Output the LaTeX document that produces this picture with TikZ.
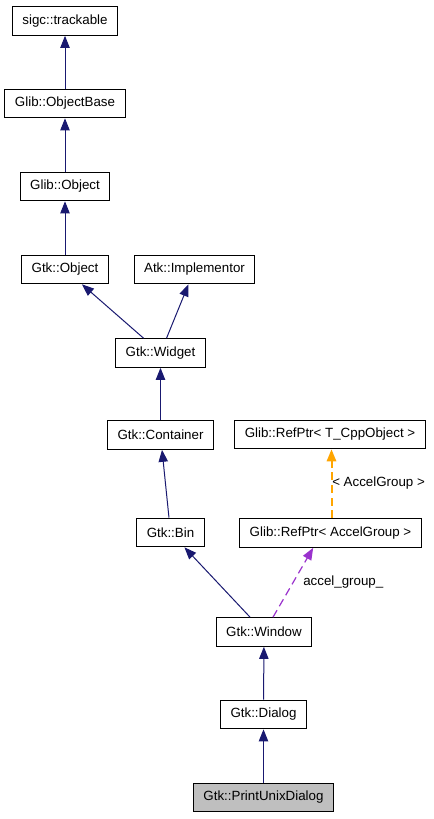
\documentclass[tikz,border=0pt]{standalone}
\usepackage{fontspec}
\setmainfont{Liberation Sans}
\usepackage{tikz}
\usetikzlibrary{arrows.meta}
\definecolor{navyedge}{RGB}{25,25,112}
\definecolor{orchidedge}{RGB}{154,50,205}
\definecolor{orangeedge}{RGB}{255,165,0}
\definecolor{grayfill}{RGB}{191,191,191}
\begin{document}
\begin{tikzpicture}[x=0.75pt,y=-0.75pt,
  cls/.style={draw,line width=0.75pt,fill=white,inner xsep=7.5pt,minimum height=21.5pt,font=\fontsize{10}{12}\selectfont},
  inherit/.style={draw=navyedge,line width=0.75pt,-{Triangle[length=9pt,width=7pt]},navyedge},
  usedby/.style={draw=orchidedge,line width=0.9pt,dash pattern=on 6pt off 3.5pt,-{Triangle[length=9pt,width=7pt]},orchidedge},
  tmpl/.style={draw=orangeedge,line width=1.5pt,dash pattern=on 6pt off 3.5pt,-{Triangle[length=9pt,width=7pt]},orangeedge},
  lbl/.style={font=\fontsize{10}{12}\selectfont,inner sep=0pt,anchor=west}]
\useasboundingbox[fill=white] (0,0) rectangle (433,819);
\node[cls] (trackable) at (65,21) {sigc::trackable};
\node[cls] (objectbase) at (65,103.5) {Glib::ObjectBase};
\node[cls] (glibobject) at (65,186.5) {Glib::Object};
\node[cls] (gtkobject) at (65,269.5) {Gtk::Object};
\node[cls] (implementor) at (194.5,269.5) {Atk::Implementor};
\node[cls] (widget) at (160.5,353) {Gtk::Widget};
\node[cls] (container) at (160.5,435) {Gtk::Container};
\node[cls] (cppobject) at (330,434.5) {Glib::RefPtr< T\_CppObject >};
\node[cls] (bin) at (170.5,532.5) {Gtk::Bin};
\node[cls] (accelgroup) at (330.5,533) {Glib::RefPtr< AccelGroup >};
\node[cls] (window) at (264,632) {Gtk::Window};
\node[cls] (dialog) at (263.5,714.5) {Gtk::Dialog};
\node[cls,fill=grayfill] (printdialog) at (263.5,797.5) {Gtk::PrintUnixDialog};
\draw[inherit] (objectbase) -- (trackable);
\draw[inherit] (glibobject) -- (objectbase);
\draw[inherit] (gtkobject) -- (glibobject);
\draw[inherit] (widget) -- (gtkobject);
\draw[inherit] (widget) -- (implementor);
\draw[inherit] (container) -- (widget);
\draw[inherit] (bin) -- (container);
\draw[inherit] (window) -- (bin);
\draw[inherit] (dialog) -- (window);
\draw[inherit] (printdialog) -- (dialog);
\draw[usedby] ([xshift=6.75pt]window.north) -- ([xshift=-13pt]accelgroup.south);
\draw[tmpl] ([xshift=0.75pt]accelgroup.north) -- ([xshift=0.75pt]accelgroup.north |- cppobject.south);
\node[lbl] (templatelabel) at (332,483) {< AccelGroup >};
\node[lbl] (accellabel) at (303,582) {accel\_group\_};
\end{tikzpicture}
\end{document}
